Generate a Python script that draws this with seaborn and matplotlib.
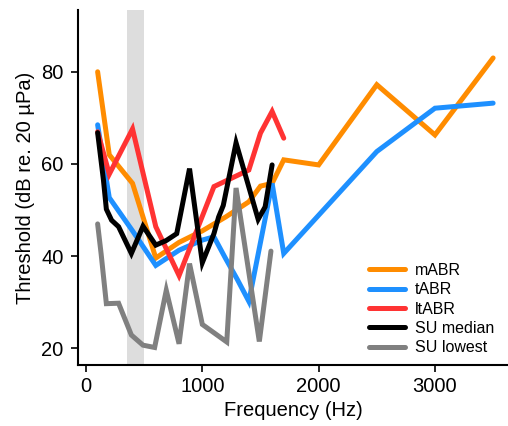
import matplotlib
matplotlib.use('Agg')
import matplotlib.pyplot as plt
import seaborn as sns
import numpy as np
import pandas as pd

# threshold curves (Hz, dB re. 20 uPa)
mabr_f = [100, 200, 400, 600, 800, 1000, 1200, 1400, 1500, 1600, 1700, 2000, 2500, 3000, 3500]
mabr_db = [80, 62, 55.8, 39.6, 43, 45.5, 48.5, 51.8, 55.2, 55.8, 60.9, 59.8, 77.2, 66.3, 83]

tabr_f = [100, 200, 400, 600, 800, 1000, 1100, 1200, 1300, 1400, 1600, 1700, 2500, 3000, 3500]
tabr_db = [68.5, 52.7, 45.5, 38, 41.3, 43.5, 44.2, 39.5, 35, 30.2, 55.8, 40.6, 62.7, 72.1, 73.2]

ltabr_f = [100, 200, 400, 600, 800, 1100, 1400, 1500, 1600, 1700]
ltabr_db = [67, 57.8, 67.6, 46.4, 35.8, 55.1, 58.7, 66.7, 71.4, 65.6]

sumed_f = [100, 150, 175, 220, 280, 390, 490, 600, 690, 780, 890, 1000, 1100, 1140, 1180,
           1290, 1480, 1540, 1600]
sumed_db = [66.8, 56.5, 50.2, 47.8, 46.4, 40.6, 46.5, 42.4, 43.4, 44.9, 59, 38.6, 44.9, 48.5, 51,
            64.6, 48, 50.7, 59.8]

sulow_f = [100, 130, 175, 280, 390, 490, 590, 690, 800, 890, 1000, 1210, 1290, 1490, 1590]
sulow_db = [47, 40.5, 29.7, 29.8, 22.9, 20.7, 20.2, 32.6, 21, 38.4, 25.2, 21.4, 54.8, 21.5, 41.1]

series = [
    ('mABR', mabr_f, mabr_db, '#FF8C00'),
    ('tABR', tabr_f, tabr_db, '#1E90FF'),
    ('ltABR', ltabr_f, ltabr_db, '#FF3333'),
    ('SU median', sumed_f, sumed_db, 'black'),
    ('SU lowest', sulow_f, sulow_db, '#808080'),
]

sns.set_style('ticks', {'axes.edgecolor': 'black', 'text.color': 'black',
                        'xtick.color': 'black', 'ytick.color': 'black',
                        'axes.labelcolor': 'black'})
plt.rcParams['font.family'] = ['Liberation Sans', 'DejaVu Sans']

fig = plt.figure(figsize=(5.08, 4.26), dpi=100)
ax = fig.add_axes([0.1535, 0.1432, 0.8465, 0.8333])

# shaded band
ax.axvspan(350, 500, color='#DDDDDD', lw=0, zorder=0)

for name, f, db, c in series:
    df = pd.DataFrame({'f': f, 'db': db})
    sns.lineplot(data=df, x='f', y='db', ax=ax, color=c, lw=3.6, sort=False,
                 label=name, solid_joinstyle='miter')

ax.set_xlim(-69, 3628)
ax.set_ylim(16.4, 93.4)
ax.set_xticks([0, 1000, 2000, 3000])
ax.set_yticks([20, 40, 60, 80])
ax.set_xlabel('Frequency (Hz)', fontsize=14.5)
ax.set_ylabel('Threshold (dB re. 20 µPa)', fontsize=14.5)
ax.tick_params(labelsize=14.5, length=5, width=1.2, direction='out')
ax.tick_params(axis='y', pad=5.5)
sns.despine(ax=ax)
for s in ['left', 'bottom']:
    ax.spines[s].set_linewidth(1.5)

leg = ax.legend(loc='upper left', frameon=False, fontsize=11.5, handlelength=2.25,
                handletextpad=0.62, labelspacing=0.27, borderpad=0, borderaxespad=0,
                bbox_to_anchor=(369 / 508, 1 - 263 / 426), bbox_transform=fig.transFigure)

fig.savefig('out.png', dpi=100)
